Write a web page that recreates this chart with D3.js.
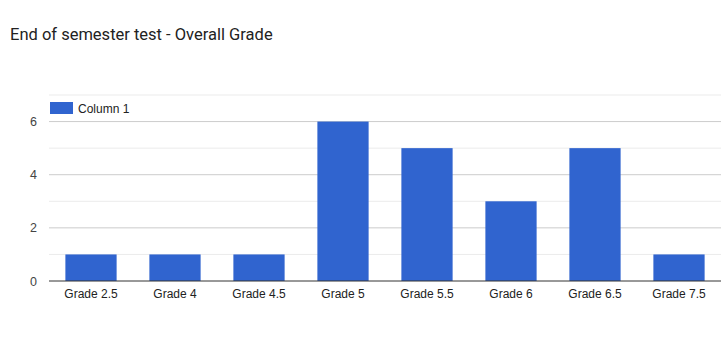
<!DOCTYPE html>
<html>
<head>
<meta charset="utf-8">
<script src="https://cdn.jsdelivr.net/npm/d3@7"></script>
<style>
  body { margin: 0; background: #fff; }
  text { font-family: Roboto, Arial, sans-serif; }
</style>
</head>
<body>
<svg id="chart" width="722" height="353"></svg>
<script>
// chart data
var categories = ["Grade 2.5", "Grade 4", "Grade 4.5", "Grade 5", "Grade 5.5", "Grade 6", "Grade 6.5", "Grade 7.5"]
var values = [1, 1, 1, 6, 5, 3, 5, 1]
var yTicks = [0, 2, 4, 6]
var seriesName = "Column 1"
var chartTitle = "End of semester test - Overall Grade"

var labelFont = "'Liberation Sans', Arial, sans-serif"

var margin = { top: 95, right: 1, bottom: 72, left: 49 },
  width = 722 - margin.left - margin.right,
  height = 353 - margin.top - margin.bottom

var svg = d3.select("#chart")

svg.append("text")
  .attr("x", 10)
  .attr("y", 40)
  .text(chartTitle)
  .style("font-size", "16.5px")
  .style("fill", "#222")

var g = svg.append("g")
  .attr("transform", "translate(" + margin.left + "," + margin.top + ")")

var x = d3.scaleBand()
  .domain(categories)
  .range([0, width])
  .paddingInner(0.39)
  .paddingOuter(0.195)

var y = d3.scaleLinear()
  .domain([0, 7])
  .range([height, 0])

// gridlines: darker at labelled ticks, lighter in between
g.selectAll(".grid")
  .data(d3.range(1, 8))
  .enter()
  .append("line")
  .attr("x1", 0)
  .attr("x2", width)
  .attr("y1", d => y(d))
  .attr("y2", d => y(d))
  .attr("stroke", d => (d % 2 == 0 ? "#cccccc" : "#ebebeb"))
  .attr("stroke-width", 1)

// bars
g.selectAll(".bar")
  .data(values)
  .enter()
  .append("rect")
  .attr("x", (d, i) => x(categories[i]))
  .attr("y", d => y(d))
  .attr("width", x.bandwidth())
  .attr("height", d => height - y(d))
  .style("fill", "#3064cf")

// baseline
g.append("line")
  .attr("x1", 0)
  .attr("x2", width)
  .attr("y1", y(0))
  .attr("y2", y(0))
  .attr("stroke", "#333")

// y axis labels
var yAxis = g.append("g")
  .call(d3.axisLeft(y).tickValues(yTicks).tickFormat(d3.format("d")).tickSize(0).tickPadding(12))
yAxis.select(".domain").remove()
yAxis.selectAll("text")
  .style("font-size", "12.5px")
  .style("fill", "#444")
  .style("font-family", labelFont)

// x axis labels
var xAxis = g.append("g")
  .attr("transform", "translate(0," + height + ")")
  .call(d3.axisBottom(x).tickSize(0).tickPadding(8))
xAxis.select(".domain").remove()
xAxis.selectAll("text")
  .style("font-size", "12px")
  .style("fill", "#222")
  .style("font-family", labelFont)

// legend
svg.append("rect")
  .attr("x", 50)
  .attr("y", 102)
  .attr("width", 23)
  .attr("height", 12)
  .style("fill", "#3064cf")

svg.append("text")
  .attr("x", 78)
  .attr("y", 112.5)
  .text(seriesName)
  .style("font-size", "12px")
  .style("fill", "#222")
  .style("font-family", labelFont)
</script>
</body>
</html>
